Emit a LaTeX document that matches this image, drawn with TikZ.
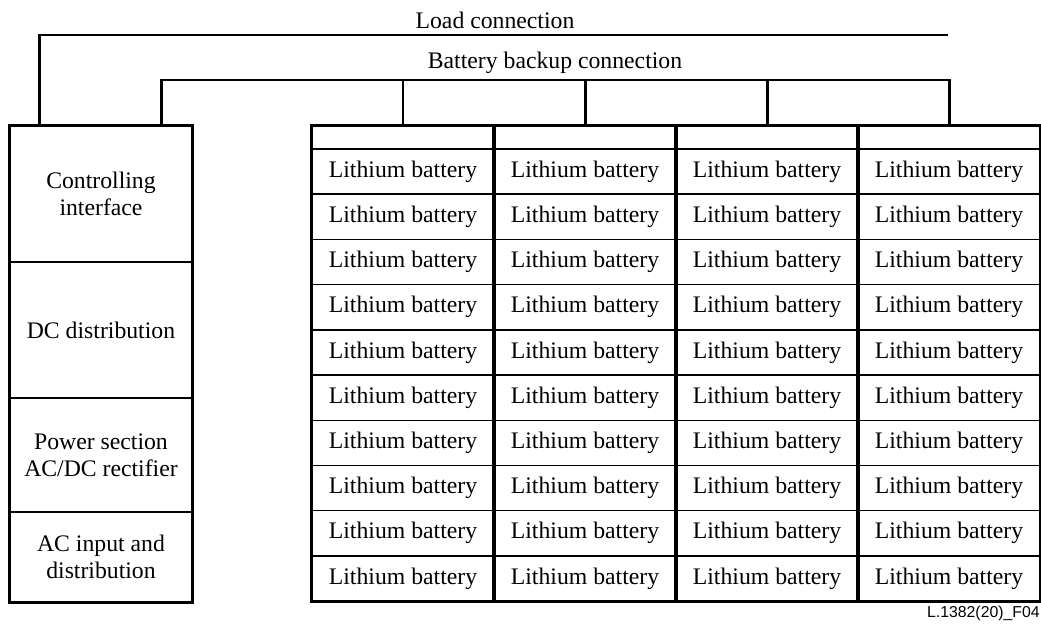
\documentclass[tikz,border=0pt]{standalone}
\usepackage{fontspec}
\setmainfont{Liberation Serif}
\newfontfamily\tagfont{Liberation Sans}

\begin{document}
\begin{tikzpicture}[x=0.02cm,y=-0.02cm]
        \tikzstyle{cell}=[draw=black,line width=0.8pt,inner sep=0pt,minimum width=3.64cm,minimum height=0.904cm,font=\fontsize{13.5}{15.5}\selectfont]
        \tikzstyle{section}=[cell,align=center]
        \tikzstyle{frame}=[draw=black,line width=1.7pt]
        \tikzstyle{wire}=[draw=black,line width=1.7pt]
        \useasboundingbox (0,0) rectangle (1041,626);
        % power cabinet
        \node[section,minimum height=2.72cm] (ctrl) at (101,194) {Controlling\\interface};
        \node[section,minimum height=2.72cm] (dcdist) at (101,330) {DC distribution};
        \node[section,minimum height=2.28cm] (rect) at (101,455) {Power section\\AC/DC rectifier};
        \node[section,minimum height=1.8cm] (acin) at (101,557) {AC input and\\distribution};
        \draw[frame] (ctrl.north west) rectangle (acin.south east);
        % battery cabinets
        \foreach \i in {0,...,3} {
            \node[cell,minimum height=0.46cm] (col-\i-0) at (403+182*\i,137.5) {};
            \foreach \j in {1,...,10}
                \node[cell] (col-\i-\j) at (403+182*\i,149+45.2*\j-22.6) {Lithium battery};
            \draw[frame] (col-\i-0.north west) rectangle (col-\i-10.south east);
        }
        % connections
        \coordinate (loadend) at (948,35);
        \coordinate (bus) at (0,80);
        \draw[wire] ([xshift=0.6cm]ctrl.north west) |- (loadend);
        \draw[wire] ([xshift=-0.62cm]ctrl.north east) |- (col-3-0.north |- bus) -- (col-3-0.north);
        \foreach \i in {0,1,2}
            \draw[wire] (col-\i-0.north |- bus) -- (col-\i-0.north);
        \node[anchor=base,font=\fontsize{13.5}{15.5}\selectfont] (loadlbl) at (495,28) {Load connection};
        \node[anchor=base,font=\fontsize{13.5}{15.5}\selectfont] (buslbl) at (555,68) {Battery backup connection};
        \node[anchor=base east,inner sep=0pt,font=\tagfont\fontsize{9}{10}\selectfont] (tag) at (1040,617) {L.1382(20)\_F04};
\end{tikzpicture}
\end{document}
